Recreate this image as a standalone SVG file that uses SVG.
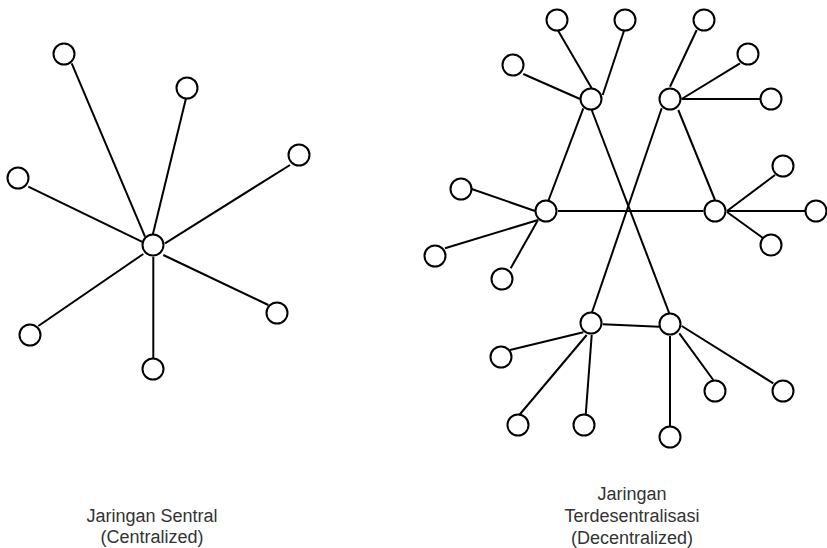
<svg xmlns="http://www.w3.org/2000/svg" width="827" height="548" viewBox="0 0 827 548">
  <style>
    .edge { stroke: #000; stroke-width: 2; fill: none; stroke-linecap: butt; }
    .node circle { fill: #fff; stroke: #000; stroke-width: 2; }
    .label { font-family: "Liberation Sans", Arial, Helvetica, sans-serif; font-size: 18px; fill: #333; text-anchor: middle; }
  </style>
  <rect width="827" height="548" fill="#fff"/>

  <!-- connectors -->
  <g id="connectors" class="edge">
    <!-- centralized star -->
    <line x1="71.7" y1="63.3" x2="145" y2="236.7"/>
    <line x1="186" y1="98.3" x2="152.7" y2="235"/>
    <line x1="290" y1="165" x2="165" y2="243.3"/>
    <line x1="28.3" y1="186.7" x2="143.3" y2="242.3"/>
    <line x1="163.3" y1="255" x2="268.3" y2="305"/>
    <line x1="38.3" y1="326" x2="143.3" y2="254"/>
    <line x1="153.3" y1="256.7" x2="153.3" y2="358.3"/>

    <!-- decentralized: hub A -->
    <line x1="557.7" y1="30" x2="591.7" y2="88.3"/>
    <line x1="624" y1="30.7" x2="602.7" y2="95"/>
    <line x1="523.3" y1="74" x2="580" y2="99"/>
    <line x1="583.3" y1="108.3" x2="544.5" y2="211"/>
    <line x1="591.7" y1="110" x2="669.3" y2="313.3"/>
    <!-- hub B -->
    <line x1="670" y1="86.7" x2="696.7" y2="30"/>
    <line x1="681.7" y1="99" x2="740" y2="63.3"/>
    <line x1="681.7" y1="99" x2="760" y2="99"/>
    <line x1="661.7" y1="108.3" x2="591.7" y2="313.3"/>
    <line x1="678.3" y1="110" x2="715" y2="200"/>
    <!-- hub C -->
    <line x1="471.7" y1="189" x2="535" y2="211"/>
    <line x1="538" y1="220" x2="445" y2="248.3"/>
    <line x1="538" y1="220" x2="510.7" y2="268.3"/>
    <line x1="558" y1="211" x2="703.5" y2="211"/>
    <!-- hub D -->
    <line x1="727" y1="211" x2="775" y2="175"/>
    <line x1="727" y1="211" x2="805" y2="211"/>
    <line x1="727" y1="212" x2="763.3" y2="238.3"/>
    <!-- hub E -->
    <line x1="602.7" y1="324.3" x2="659.3" y2="326.7"/>
    <line x1="583.3" y1="332.3" x2="510" y2="350"/>
    <line x1="586.7" y1="335" x2="519.3" y2="415"/>
    <line x1="591.7" y1="335" x2="585.7" y2="415"/>
    <!-- hub F -->
    <line x1="670" y1="336" x2="670" y2="426"/>
    <line x1="679.3" y1="333.3" x2="713.3" y2="380"/>
    <line x1="681.7" y1="326" x2="773.3" y2="383.3"/>
  </g>

  <!-- centralized network nodes -->
  <g id="central-hub" class="node"><circle cx="153" cy="245" r="10.5"/></g>
  <g id="central-leaf-1" class="node"><circle cx="64" cy="54" r="10.5"/></g>
  <g id="central-leaf-2" class="node"><circle cx="187" cy="88" r="10.5"/></g>
  <g id="central-leaf-3" class="node"><circle cx="299" cy="155" r="10.5"/></g>
  <g id="central-leaf-4" class="node"><circle cx="18" cy="178" r="10.5"/></g>
  <g id="central-leaf-5" class="node"><circle cx="277" cy="313" r="10.5"/></g>
  <g id="central-leaf-6" class="node"><circle cx="30" cy="335" r="10.5"/></g>
  <g id="central-leaf-7" class="node"><circle cx="153" cy="369" r="10.5"/></g>

  <!-- decentralized network hubs -->
  <g id="hub-a" class="node"><circle cx="591" cy="99" r="10.5"/></g>
  <g id="hub-b" class="node"><circle cx="670" cy="99" r="10.5"/></g>
  <g id="hub-c" class="node"><circle cx="546" cy="211" r="10.5"/></g>
  <g id="hub-d" class="node"><circle cx="715" cy="211" r="10.5"/></g>
  <g id="hub-e" class="node"><circle cx="591" cy="323" r="10.5"/></g>
  <g id="hub-f" class="node"><circle cx="670" cy="324" r="10.5"/></g>

  <!-- decentralized network leaves -->
  <g id="leaf-a1" class="node"><circle cx="557" cy="20" r="10.5"/></g>
  <g id="leaf-a2" class="node"><circle cx="625" cy="20" r="10.5"/></g>
  <g id="leaf-a3" class="node"><circle cx="513" cy="65" r="10.5"/></g>
  <g id="leaf-b1" class="node"><circle cx="704" cy="20" r="10.5"/></g>
  <g id="leaf-b2" class="node"><circle cx="748" cy="54" r="10.5"/></g>
  <g id="leaf-b3" class="node"><circle cx="771" cy="99" r="10.5"/></g>
  <g id="leaf-c1" class="node"><circle cx="461" cy="189" r="10.5"/></g>
  <g id="leaf-c2" class="node"><circle cx="435" cy="256" r="10.5"/></g>
  <g id="leaf-c3" class="node"><circle cx="502" cy="279" r="10.5"/></g>
  <g id="leaf-d1" class="node"><circle cx="783" cy="166" r="10.5"/></g>
  <g id="leaf-d2" class="node"><circle cx="816" cy="211" r="10.5"/></g>
  <g id="leaf-d3" class="node"><circle cx="771" cy="245" r="10.5"/></g>
  <g id="leaf-e1" class="node"><circle cx="501" cy="357" r="10.5"/></g>
  <g id="leaf-e2" class="node"><circle cx="518" cy="425" r="10.5"/></g>
  <g id="leaf-e3" class="node"><circle cx="584" cy="425" r="10.5"/></g>
  <g id="leaf-f1" class="node"><circle cx="670" cy="437" r="10.5"/></g>
  <g id="leaf-f2" class="node"><circle cx="715" cy="391" r="10.5"/></g>
  <g id="leaf-f3" class="node"><circle cx="783" cy="391" r="10.5"/></g>

  <!-- captions -->
  <g id="caption-centralized">
    <text class="label" x="152" y="522">Jaringan Sentral</text>
    <text class="label" x="152" y="543">(Centralized)</text>
  </g>
  <g id="caption-decentralized">
    <text class="label" x="632" y="500">Jaringan</text>
    <text class="label" x="632" y="522">Terdesentralisasi</text>
    <text class="label" x="632" y="544">(Decentralized)</text>
  </g>
</svg>
